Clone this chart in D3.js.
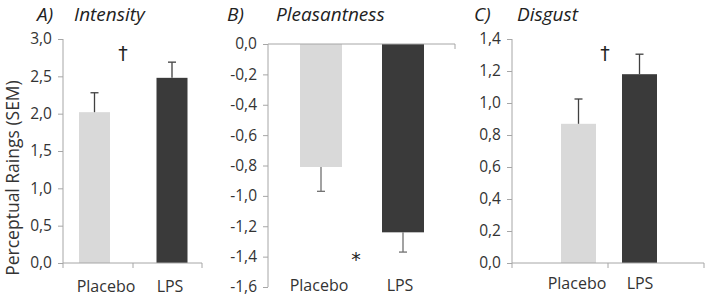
<!DOCTYPE html>
<html>
<head>
<meta charset="utf-8">
<script src="https://cdn.jsdelivr.net/npm/d3@7"></script>
<style>
  body { margin: 0; background: #fff; }
  text { font-family: "Open Sans", "Liberation Sans", sans-serif; }
</style>
</head>
<body>
<script>
// data
var categories = ["Placebo", "LPS"];

var intensityMeans = [2.02, 2.48];
var intensitySem = [0.26, 0.21];
var intensityTicks = [0, 0.5, 1.0, 1.5, 2.0, 2.5, 3.0];

var pleasantMeans = [-0.81, -1.24];
var pleasantSem = [0.16, 0.13];
var pleasantTicks = [0, -0.2, -0.4, -0.6, -0.8, -1.0, -1.2, -1.4, -1.6];

var disgustMeans = [0.87, 1.18];
var disgustSem = [0.155, 0.125];
var disgustTicks = [0, 0.2, 0.4, 0.6, 0.8, 1.0, 1.2, 1.4];

var panelLetters = ["A)", "B)", "C)"];
var panelTitles = ["Intensity", "Pleasantness", "Disgust"];
var marks = ["\u2020", "*", "\u2020"];
var yTitle = "Perceptual Raings (SEM)";

var barColors = ["#d9d9d9", "#3a3a3a"];
var axisColor = "#a6a6a6";
var textColor = "#333";

var width = 707, height = 298;

var svg = d3.select("body").append("svg")
    .attr("width", width)
    .attr("height", height);

// layout for each panel (pixels)
var panels = [
  { means: intensityMeans, sem: intensitySem, ticks: intensityTicks, domain: [0, 3.0],
    axisX: 63, yRange: [263, 39], xEnd: 202, xAxisY: 263, xTicks: [63, 133, 202],
    bars: [94.5, 172], barW: 31, labels: [106, 170], labelY: 292, errColor: "#404040",
    letterX: 37, titleX: 74, mark: [123, 60] },
  { means: pleasantMeans, sem: pleasantSem, ticks: pleasantTicks, domain: [-1.6, 0],
    axisX: 268, yRange: [287, 44], xEnd: 455, xAxisY: 44, xTicks: [455],
    bars: [321, 403], barW: 42, labels: [319, 400], labelY: 291, errColor: "#707070",
    letterX: 227, titleX: 276, mark: [356, 266] },
  { means: disgustMeans, sem: disgustSem, ticks: disgustTicks, domain: [0, 1.4],
    axisX: 512, yRange: [263, 39], xEnd: 704, xAxisY: 263, xTicks: [512, 608, 704],
    bars: [578.5, 639.5], barW: 35, labels: [577, 640], labelY: 289, errColor: "#404040",
    letterX: 474, titleX: 517, mark: [605, 60] }
];

var fmt = function(v) { return d3.format(".1f")(v).replace(".", ",").replace("\u2212", "-"); };

panels.forEach(function(p, i) {
  var g = svg.append("g");

  var y = d3.scaleLinear().domain(p.domain).range(p.yRange);
  var x = d3.scalePoint().domain(categories).range(p.bars);
  var xl = d3.scalePoint().domain(categories).range(p.labels);

  // y axis
  var yAxis = d3.axisLeft(y).tickValues(p.ticks).tickFormat(fmt).tickSize(5).tickPadding(6);
  var ya = g.append("g")
      .attr("transform", "translate(" + p.axisX + ",0)")
      .call(yAxis);
  ya.select(".domain").attr("stroke", axisColor).attr("d", "M0," + p.yRange[0] + "V" + p.yRange[1]);
  ya.selectAll(".tick line").attr("stroke", axisColor);
  ya.selectAll(".tick text")
      .attr("fill", textColor)
      .style("font-size", "15.5px")
      .style("font-family", "'Open Sans', sans-serif");

  // bars
  g.selectAll(".bar")
      .data(p.means)
      .enter().append("rect")
      .attr("x", function(d, j) { return x(categories[j]) - p.barW / 2; })
      .attr("y", function(d) { return Math.min(y(d), y(0)); })
      .attr("width", p.barW)
      .attr("height", function(d) { return Math.abs(y(d) - y(0)); })
      .attr("fill", function(d, j) { return barColors[j]; });

  // x axis line
  g.append("line")
      .attr("x1", p.axisX).attr("x2", p.xEnd)
      .attr("y1", p.xAxisY).attr("y2", p.xAxisY)
      .attr("stroke", axisColor);
  g.selectAll(".xtick")
      .data(p.xTicks)
      .enter().append("line")
      .attr("x1", function(d) { return d; }).attr("x2", function(d) { return d; })
      .attr("y1", p.xAxisY).attr("y2", p.xAxisY + 5)
      .attr("stroke", axisColor);

  // error bars (one-sided, away from zero)
  p.means.forEach(function(m, j) {
    var e = m < 0 ? m - p.sem[j] : m + p.sem[j];
    var cx = x(categories[j]);
    g.append("line")
        .attr("x1", cx).attr("x2", cx)
        .attr("y1", y(m)).attr("y2", y(e))
        .attr("stroke", p.errColor).attr("stroke-width", 1.3);
    g.append("line")
        .attr("x1", cx - 4).attr("x2", cx + 4)
        .attr("y1", y(e)).attr("y2", y(e))
        .attr("stroke", p.errColor).attr("stroke-width", 1.3);
  });

  // category labels
  g.selectAll(".cat")
      .data(categories)
      .enter().append("text")
      .attr("x", function(d) { return xl(d); })
      .attr("y", p.labelY)
      .attr("text-anchor", "middle")
      .attr("fill", textColor)
      .style("font-size", "16px")
      .text(function(d) { return d; });

  // titles
  g.append("text")
      .attr("x", p.letterX).attr("y", 21)
      .attr("fill", "#222")
      .style("font-size", "19px").style("font-style", "italic")
      .text(panelLetters[i]);
  g.append("text")
      .attr("x", p.titleX).attr("y", 21)
      .attr("fill", "#222")
      .style("font-size", "19px").style("font-style", "italic")
      .text(panelTitles[i]);

  // significance marks
  g.append("text")
      .attr("x", p.mark[0]).attr("y", p.mark[1])
      .attr("text-anchor", "middle")
      .attr("fill", "#222")
      .style("font-family", "'DejaVu Sans', sans-serif")
      .style("font-size", "19px")
      .text(marks[i]);
});

// shared y title
svg.append("text")
    .attr("transform", "translate(19,178) rotate(-90)")
    .attr("text-anchor", "middle")
    .attr("fill", textColor)
    .style("font-size", "17.5px")
    .text(yTitle);
</script>
</body>
</html>
